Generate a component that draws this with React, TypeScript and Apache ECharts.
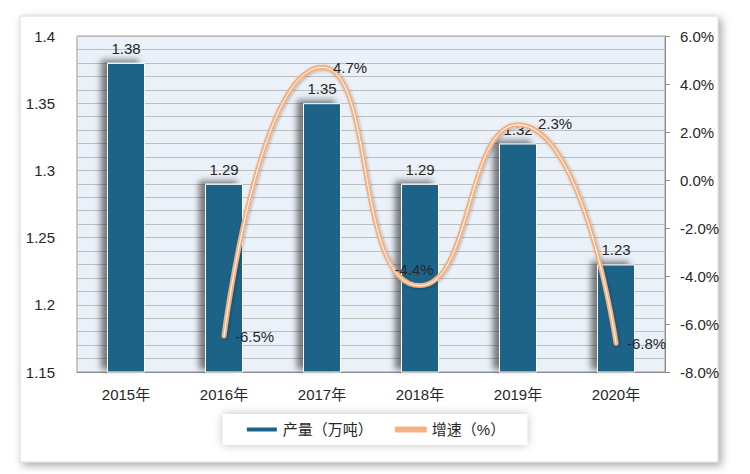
import React, { useEffect, useRef } from "react";
import * as echarts from "echarts";

const categories = ["2015年", "2016年", "2017年", "2018年", "2019年", "2020年"];
const output = [1.38, 1.29, 1.35, 1.29, 1.32, 1.23];
const growth: (number | null)[] = [null, -6.5, 4.7, -4.4, 2.3, -6.8];
const barName = "产量（万吨）";
const lineName = "增速（%）";

const FONT = "'Liberation Sans', 'Noto Sans CJK SC', sans-serif";
const TEXT = "#262626";

export default function App() {
  const ref = useRef<HTMLDivElement>(null);
  useEffect(() => {
    document.body.style.margin = "0";
    if (!ref.current) return;
    const chart = echarts.init(ref.current, undefined, { renderer: "svg" });
    const lineData = growth.map((v, i) =>
      v === null
        ? null
        : i === 3
        ? { value: v, label: { position: "top", distance: 8, offset: [-6, 0] } }
        : i === 4
        ? { value: v, label: { position: "right", distance: 19, offset: [0, -1] } }
        : { value: v }
    );
    chart.setOption({
      animation: false,
      textStyle: { fontFamily: FONT },
      graphic: [
        {
          type: "rect",
          z: -10,
          shape: { x: 20, y: 16, width: 698, height: 446 },
          style: {
            fill: "#fff",
            stroke: "#d9d9d9",
            lineWidth: 1,
            shadowBlur: 8,
            shadowOffsetX: 3,
            shadowOffsetY: 3,
            shadowColor: "rgba(0,0,0,0.35)",
          },
        },
      ],
      legend: {
        data: [
          { name: barName, icon: "rect" },
          { name: lineName, icon: "roundRect" },
        ],
        left: "center",
        top: 414,
        itemWidth: 32,
        itemHeight: 6,
        itemGap: 22,
        padding: [8, 22, 8, 22],
        backgroundColor: "#fff",
        shadowBlur: 10,
        shadowColor: "rgba(0,0,0,0.25)",
        textStyle: { fontSize: 15, color: TEXT, fontFamily: FONT },
      },
      grid: {
        left: 77,
        right: 85,
        top: 36,
        bottom: 102,
        show: true,
        backgroundColor: "#eaf1f8",
        borderColor: "#9a9a9a",
        borderWidth: 1,
      },
      xAxis: {
        type: "category",
        data: categories,
        axisLine: { show: true, onZero: false, lineStyle: { color: "#8c8c8c" } },
        axisTick: { show: false },
        axisLabel: { fontSize: 15, color: TEXT, margin: 15 },
      },
      yAxis: [
        {
          type: "value",
          min: 1.15,
          max: 1.4,
          interval: 0.05,
          axisLine: { show: false },
          axisTick: { show: false },
          axisLabel: { fontSize: 15, color: TEXT, margin: 22 },
          splitLine: { show: true, lineStyle: { color: "#bdbdbd", width: 1.2 } },
          minorTick: { show: false, splitNumber: 5 },
          minorSplitLine: { show: true, lineStyle: { color: "#bdbdbd", width: 1.2 } },
        },
        {
          type: "value",
          min: -8,
          max: 6,
          interval: 2,
          position: "right",
          axisLine: { show: true, onZero: false, lineStyle: { color: "#8c8c8c" } },
          axisTick: { show: true, length: 5, lineStyle: { color: "#8c8c8c" } },
          axisLabel: {
            fontSize: 15,
            color: TEXT,
            margin: 15,
            formatter: (v: number) => v.toFixed(1) + "%",
          },
          splitLine: { show: false },
        },
      ],
      series: [
        {
          name: barName,
          type: "bar",
          data: output,
          barWidth: 38,
          itemStyle: {
            color: "#1b6487",
            borderColor: "#ffffff",
            borderWidth: 1,
            shadowColor: "rgba(0,0,0,0.5)",
            shadowBlur: 6,
            shadowOffsetX: -6,
            shadowOffsetY: -3,
          },
          label: {
            show: true,
            position: "top",
            distance: 7,
            fontSize: 15,
            color: TEXT,
          },
        },
        {
          name: lineName,
          type: "line",
          yAxisIndex: 1,
          data: lineData,
          smooth: 0.6,
          symbol: "circle",
          symbolSize: 2,
          showSymbol: true,
          lineStyle: {
            color: "#f4b183",
            width: 5,
            cap: "round",
            shadowColor: "rgba(0,0,0,0.25)",
            shadowBlur: 3,
            shadowOffsetX: 1,
            shadowOffsetY: 1,
          },
          itemStyle: { color: "#f4b183" },
          label: {
            show: true,
            position: "right",
            distance: 10,
            fontSize: 15,
            color: TEXT,
            formatter: (p: any) => Number(p.value).toFixed(1) + "%",
          },
          z: 3,
        },
        {
          name: lineName + "_inner",
          type: "line",
          yAxisIndex: 1,
          data: growth,
          smooth: 0.6,
          symbol: "none",
          lineStyle: { color: "#ffffff", width: 1, cap: "round" },
          silent: true,
          z: 4,
        },
      ],
    });
    return () => chart.dispose();
  }, []);
  return <div ref={ref} style={{ width: 750, height: 474 }} />;
}
